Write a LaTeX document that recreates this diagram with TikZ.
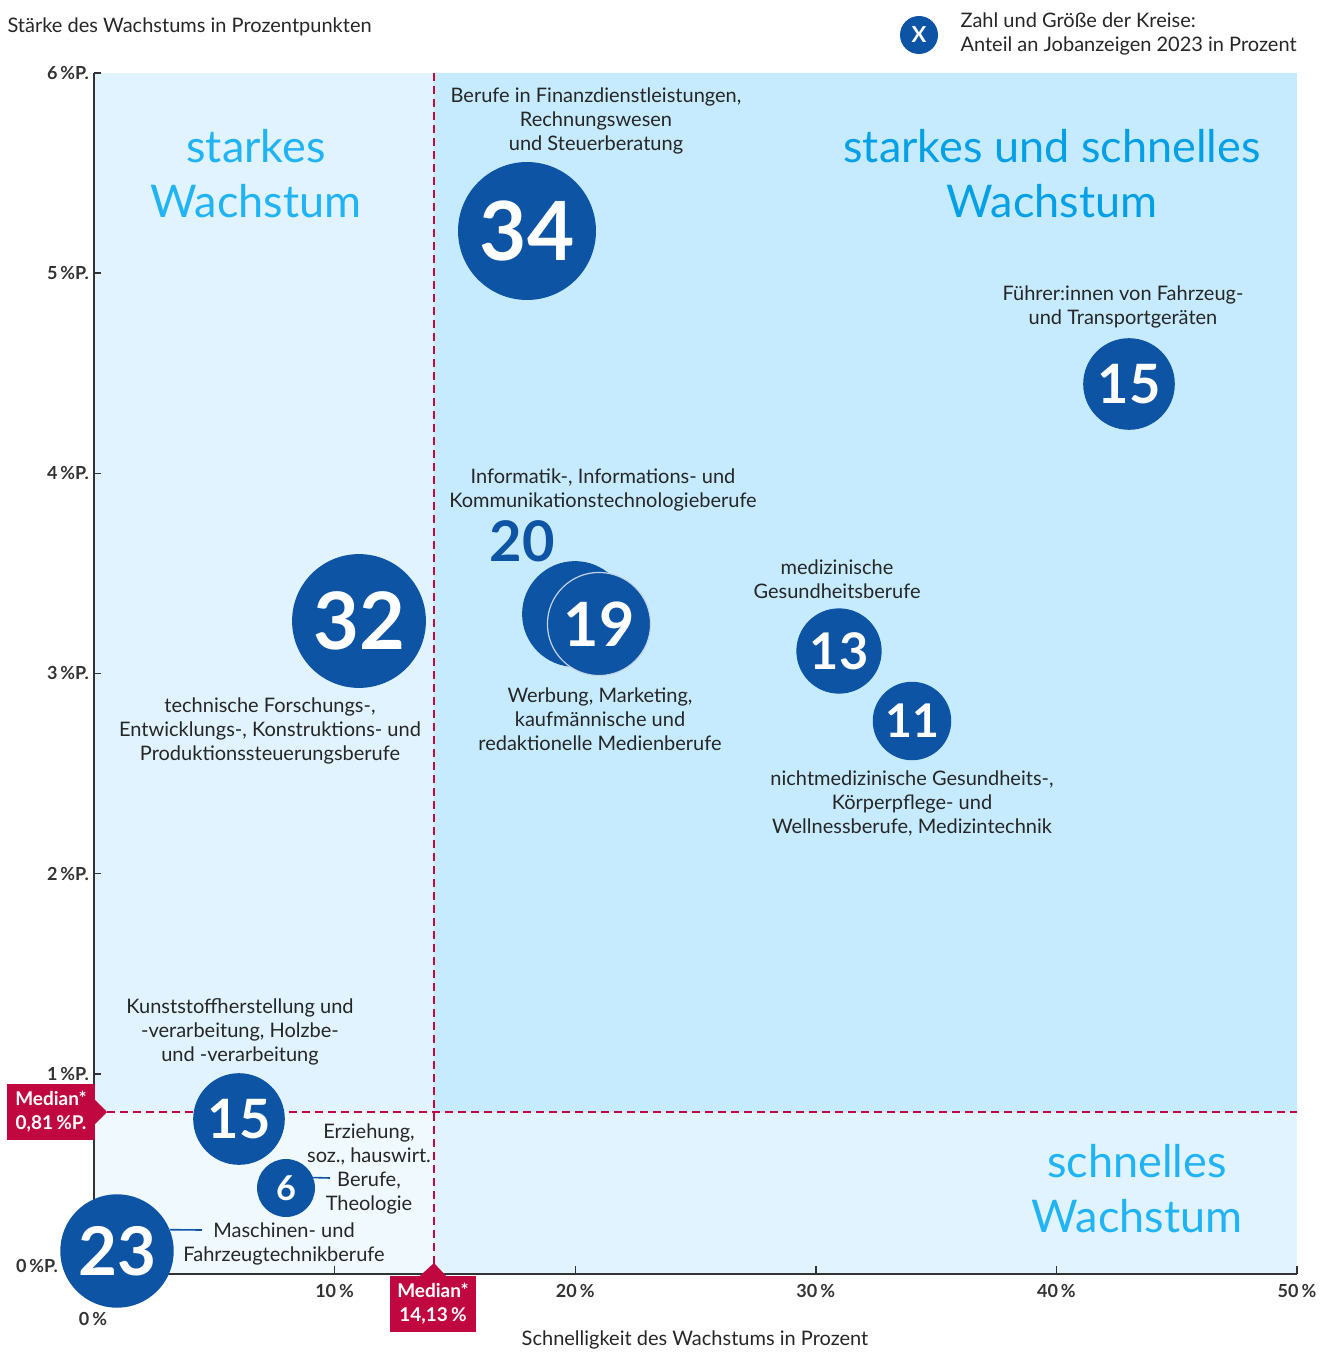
\documentclass[tikz,border=0pt]{standalone}
\usepackage{fontspec}
\setmainfont{Lato}
\usetikzlibrary{positioning,calc}
\definecolor{bubbleblue}{HTML}{0E54A5}
\definecolor{median}{HTML}{C0073F}
\definecolor{bgstrong}{HTML}{C6EBFE}
\definecolor{bgmid}{HTML}{E0F3FE}
\definecolor{bglight}{HTML}{EFF9FE}
\definecolor{quadblue}{HTML}{21B4F5}
\definecolor{quaddark}{HTML}{04A0E6}
\definecolor{txt}{HTML}{262626}
\definecolor{axisgray}{HTML}{333333}
\newcommand\numsize[1]{\pgfmathsetmacro\numfs{14*sqrt(#1)}\fontsize{\numfs}{\numfs}\selectfont\bfseries}

\begin{document}
\begin{tikzpicture}[x=1pt,y=-1pt,
    bubble/.style={circle,fill=bubbleblue,text=white,inner sep=0pt,
      minimum size={23.66*sqrt(#1)*1pt},font=\numsize{#1}},
    lbl/.style={align=center,text=txt,font=\fontsize{20}{24}\selectfont},
    quadlabel/.style={align=center,text=quadblue,font=\fontsize{45}{55}\selectfont},
    ticklabel/.style={text=axisgray,font=\fontsize{18}{20}\selectfont\bfseries},
    medbox/.style={fill=median,text=white,align=center,inner sep=0pt,
      minimum height=56pt,font=\fontsize{19}{24}\selectfont\bfseries},
    medline/.style={median,line width=1.6pt,dash pattern=on 8pt off 5pt},
    pin/.style={draw=bubbleblue,line width=1.6pt}]
    \useasboundingbox (0,0) rectangle (1327,1354);
    % Quadrants
    \fill[bgmid] (94,73) rectangle (434,1112);
    \fill[bglight] (94,1112) rectangle (434,1274);
    \fill[bgstrong] (434,73) rectangle (1297,1112);
    \fill[bgmid] (434,1112) rectangle (1297,1274);
    \node[quadlabel] (qstark) at (256,174) {starkes\\Wachstum};
    \node[quadlabel,text=quaddark] (qboth) at (1052,174) {starkes und schnelles\\Wachstum};
    \node[quadlabel] (qschnell) at (1137,1189) {schnelles\\Wachstum};
    % Median lines
    \draw[medline] (434,73) -- (434,1264);
    \draw[medline] (107,1112) -- (1297,1112);
    % Axes
    \draw[axisgray,line width=1.4pt] (94,73) -- (94,1274) -- (1297,1274);
    \foreach \v in {1,...,6}
      \draw[axisgray,line width=1.4pt] (94,1274-200.17*\v) -- ++(7,0)
        node[ticklabel,anchor=east,xshift=-8pt] {\v\,\%P.};
    \foreach \v in {1,...,5}
      \draw[axisgray,line width=1.4pt] (94+240.6*\v,1274) -- ++(0,-8)
        node[ticklabel,pos=0,below=6pt] {\v0\,\%};
    \node[ticklabel] (y0) at (37,1266) {0\,\%P.};
    \node[ticklabel] (x0) at (93,1319) {0\,\%};
    \node[lbl,anchor=west] (ytitle) at (4,27) {Stärke des Wachstums in Prozentpunkten};
    \node[lbl] (xtitle) at (695,1340) {Schnelligkeit des Wachstums in Prozent};
    % Legend
    \node[circle,fill=bubbleblue,text=white,minimum size=38pt,inner sep=0pt,font=\fontsize{22}{22}\selectfont\bfseries] (leg) at (919,35) {X};
    \node[lbl,anchor=west,align=left] (legtext) at (957,34) {Zahl und Größe der Kreise:\\Anteil an Jobanzeigen 2023 in Prozent};
    % Bubbles
    \node[bubble=34] (b34) at (527,231) {34};
    \node[bubble=32] (b32) at (359,621) {32};
    \node[bubble=15] (b15a) at (1129,384) {15};
    \node[bubble=20] (b20) at (575,614) {};
    \node[bubble=19,draw=white!75!bubbleblue,line width=1.2pt] (b19) at (599,624) {19};
    \node[text=bubbleblue,font=\fontsize{56}{56}\selectfont\bfseries] (n20) at (522,541) {20};
    \node[bubble=13] (b13) at (839,651) {13};
    \node[bubble=11] (b11) at (912,721) {11};
    \node[bubble=15] (b15b) at (239,1119) {15};
    \node[bubble=6] (b6) at (286,1188) {6};
    \node[bubble=23] (b23) at (117,1251) {23};
    % Labels
    \node[lbl] (lfin) at (596,121) {Berufe in Finanzdienstleistungen,\\Rechnungswesen\\und Steuerberatung};
    \node[lbl] (lfahr) at (1123,307) {Führer:innen von Fahrzeug-\\und Transportgeräten};
    \node[lbl] (linfo) at (603,490) {Informatik-, Informations- und\\Kommunikationstechnologieberufe};
    \node[lbl] (lmed) at (837,579) {medizinische\\Gesundheitsberufe};
    \node[lbl] (lwerb) at (600,719) {Werbung, Marketing,\\kaufmännische und\\redaktionelle Medienberufe};
    \node[lbl] (ltech) at (270,731) {technische Forschungs-,\\Entwicklungs-, Konstruktions- und\\Produktionssteuerungsberufe};
    \node[lbl] (lnicht) at (912,803) {nichtmedizinische Gesundheits-,\\Körperpflege- und\\Wellnessberufe, Medizintechnik};
    \node[lbl] (lkunst) at (240,1032) {Kunststoffherstellung und\\-verarbeitung, Holzbe-\\und -verarbeitung};
    \node[lbl] (lerz) at (369,1169) {Erziehung,\\soz., hauswirt.\\Berufe,\\Theologie};
    \node[lbl] (lmasch) at (284,1244) {Maschinen- und\\Fahrzeugtechnikberufe};
    \coordinate (c6) at (330,1178);
    \coordinate (c23) at (202,1230);
    \draw[pin] (b6.21) -- (c6);
    \draw[pin] (b23.22) -- (c23);
    % Median boxes
    \node[medbox,minimum width=88pt] (medy) at (51,1112) {Median*\\0,81\,\%P.};
    \coordinate (my) at (107,1112);
    \fill[median] ($(medy.east)+(0,-12)$) -- (my) -- ($(medy.east)+(0,12)$) -- cycle;
    \node[medbox,minimum width=86pt] (medx) at (433,1304) {Median*\\14,13\,\%};
    \coordinate (mx) at (434,1263);
    \fill[median] ($(medx.north)+(-13,0)$) -- (mx) -- ($(medx.north)+(13,0)$) -- cycle;
\end{tikzpicture}
\end{document}
